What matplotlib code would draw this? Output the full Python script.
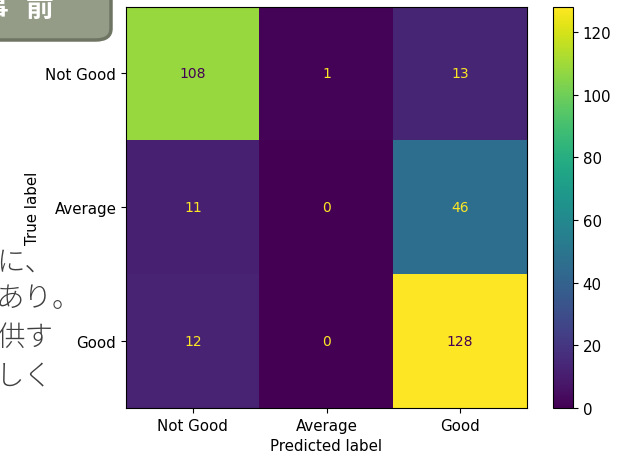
import numpy as np
import matplotlib
matplotlib.use("Agg")
import matplotlib.pyplot as plt
from matplotlib.patches import FancyBboxPatch, Rectangle

plt.rcParams['font.family'] = ['DejaVu Sans', 'Noto Sans CJK JP']

# 混同行列のデータ
labels = ["Not Good", "Average", "Good"]
cm = np.array([
    [108, 1, 13],
    [11, 0, 46],
    [12, 0, 128],
])
cbar_ticks = [0, 20, 40, 60, 80, 100, 120]

# 背景のスライド文字 (後ろに見えている部分)
bg_lines = ["に、", "あり。", "供す", "しく"]
badge_chars = ["事", "前"]

W, H = 621, 456
fig = plt.figure(figsize=(W / 100, H / 100), dpi=100)
fig.patch.set_facecolor("white")


def fx(px):
    return px / W


def fy(py):
    return 1 - py / H


# 背景のテキスト
line_y = [262, 299, 338, 377]
for s, y in zip(bg_lines, line_y):
    fig.text(fx(-4), fy(y), s, family=['Noto Sans CJK JP'], fontsize=20.5,
             fontweight="light", color="#404040", ha="left", va="center",
             zorder=0)
# 上の行を隠す白い領域
fig.patches.append(Rectangle((fx(0), fy(250)), fx(40), 250 / H,
                             transform=fig.transFigure, facecolor="white",
                             edgecolor="none", zorder=0.5))

# 左上のラベル
badge = FancyBboxPatch((fx(-30), fy(41)), fx(141), 60 / H,
                       boxstyle="round,pad=0,rounding_size=0.025",
                       transform=fig.transFigure, facecolor="#949c88",
                       edgecolor="#6f7563", linewidth=2.5, zorder=1)
fig.patches.append(badge)
fig.text(fx(9), fy(9), badge_chars[0], family=['Noto Sans CJK JP'],
         fontsize=20, fontweight="bold", color="white", ha="right",
         va="center", zorder=2)
fig.text(fx(26), fy(9), badge_chars[1], family=['Noto Sans CJK JP'],
         fontsize=20, fontweight="bold", color="white", ha="left",
         va="center", zorder=2)

# ヒートマップ
ax = fig.add_axes([fx(126), fy(409), fx(527) - fx(126), (409 - 7.5) / H])
ax.set_zorder(3)
im = ax.imshow(cm, cmap="viridis", interpolation="nearest", aspect="auto")

cmap_min, cmap_max = im.cmap(0.0), im.cmap(1.0)
thresh = (cm.max() + cm.min()) / 2.0
for i in range(cm.shape[0]):
    for j in range(cm.shape[1]):
        color = cmap_max if cm[i, j] < thresh else cmap_min
        ax.text(j, i, format(cm[i, j], "d"), ha="center", va="center",
                color=color, fontsize=10)

ax.set_xticks(range(len(labels)))
ax.set_xticklabels(labels, fontsize=10.8)
ax.set_yticks(range(len(labels)))
ax.set_yticklabels(labels, fontsize=10.8)
ax.set_xlabel("Predicted label", fontsize=10.8)
ax.set_ylabel("True label", fontsize=10.8)

# カラーバー
cax = fig.add_axes([fx(553), fy(409), fx(573) - fx(553), (409 - 8) / H])
cb = fig.colorbar(im, cax=cax)
cb.set_ticks(cbar_ticks)
cb.ax.tick_params(labelsize=10.8)

fig.savefig("out.png", dpi=100)
